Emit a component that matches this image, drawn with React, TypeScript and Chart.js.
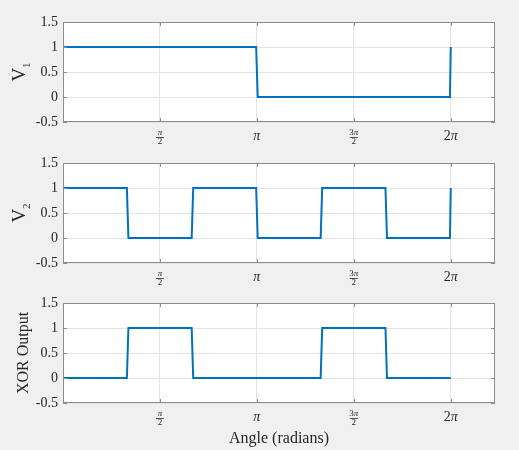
import React, { useEffect, useRef } from 'react';
import { Chart, registerables } from 'chart.js';

Chart.register(...registerables);

// V1: square wave, one period over 0..2π
const angleV1 = [0, 3.13, 3.155, 6.27, 6.283];
const valueV1 = [1, 1, 0, 0, 1];

// V2: square wave, three periods over 0..2π
const angleV2 = [0, 1.035, 1.06, 2.085, 2.11, 3.13, 3.155, 4.175, 4.2, 5.225, 5.25, 6.27, 6.283];
const valueV2 = [1, 1, 0, 0, 1, 1, 0, 0, 1, 1, 0, 0, 1];

// XOR of V1 and V2
const angleXor = [0, 1.035, 1.06, 2.085, 2.11, 4.175, 4.2, 5.225, 5.25, 6.283];
const valueXor = [0, 0, 1, 1, 0, 0, 1, 1, 0, 0];

const xTicks = [Math.PI / 2, Math.PI, (3 * Math.PI) / 2, 2 * Math.PI];
const xTickNumerators = ['π', 'π', '3π', '2π'];
const xTickDenominators = ['2', '', '2', ''];
const yTicks = [-0.5, 0, 0.5, 1, 1.5];
const yTitles = ['V', 'V', 'XOR Output'];
const ySubscripts = ['1', '2', ''];
const xTitle = 'Angle (radians)';

const SERIF = '"Liberation Serif", "DejaVu Serif", serif';
const TEXT = '#262626';
const AXIS = '#8c8c8c';
const GRID = '#e4e4e4';
const LINE = '#0072bd';

// draw a short math string centred on x, with π in italics
const drawMath = (ctx: CanvasRenderingContext2D, text: string, x: number, y: number, size: number) => {
  const parts = text.split('').map((ch) => ({
    ch,
    font: `${ch === 'π' ? 'italic ' : ''}${size}px ${SERIF}`,
  }));
  const widths = parts.map((p) => {
    ctx.font = p.font;
    return ctx.measureText(p.ch).width;
  });
  const total = widths.reduce((a, b) => a + b, 0);
  let cx = x - total / 2;
  ctx.textAlign = 'left';
  ctx.textBaseline = 'middle';
  parts.forEach((p, i) => {
    ctx.font = p.font;
    ctx.fillText(p.ch, cx, y);
    cx += widths[i];
  });
};

const matlabAxes = {
  id: 'matlabAxes',
  beforeDraw(chart: any) {
    const { ctx, chartArea: a } = chart;
    ctx.save();
    ctx.fillStyle = '#ffffff';
    ctx.fillRect(a.left, a.top, a.right - a.left, a.bottom - a.top);
    ctx.restore();
  },
  afterDraw(chart: any, _args: any, opts: any) {
    const { ctx, chartArea: a, scales } = chart;
    const xs = scales.x;
    const ys = scales.y;
    ctx.save();

    // box and inward tick marks
    ctx.strokeStyle = AXIS;
    ctx.lineWidth = 1;
    ctx.strokeRect(a.left + 0.5, a.top + 0.5, a.right - a.left - 1, a.bottom - a.top - 1);
    ctx.beginPath();
    xTicks.forEach((v) => {
      const px = Math.round(xs.getPixelForValue(v)) + 0.5;
      ctx.moveTo(px, a.top);
      ctx.lineTo(px, a.top + 4);
      ctx.moveTo(px, a.bottom);
      ctx.lineTo(px, a.bottom - 4);
    });
    yTicks.forEach((v) => {
      const py = Math.round(ys.getPixelForValue(v)) + 0.5;
      ctx.moveTo(a.left, py);
      ctx.lineTo(a.left + 4, py);
      ctx.moveTo(a.right, py);
      ctx.lineTo(a.right - 4, py);
    });
    ctx.stroke();

    // x tick labels (fractions of π)
    ctx.fillStyle = TEXT;
    xTicks.forEach((v, i) => {
      const px = xs.getPixelForValue(v);
      const den = xTickDenominators[i];
      if (den) {
        drawMath(ctx, xTickNumerators[i], px, a.bottom + 11, 9);
        ctx.fillRect(px - 4, a.bottom + 15, 8, 0.8);
        drawMath(ctx, den, px, a.bottom + 20, 9);
      } else {
        drawMath(ctx, xTickNumerators[i], px, a.bottom + 14, 14);
      }
    });

    // y title, with optional subscript
    ctx.save();
    ctx.translate(opts.titleX, (a.top + a.bottom) / 2);
    ctx.rotate(-Math.PI / 2);
    ctx.textAlign = 'left';
    ctx.textBaseline = 'alphabetic';
    ctx.font = `${opts.titleSize}px ${SERIF}`;
    const wMain = ctx.measureText(opts.title).width;
    ctx.font = `11px ${SERIF}`;
    const wSub = opts.sub ? ctx.measureText(opts.sub).width : 0;
    const start = -(wMain + wSub) / 2;
    ctx.font = `${opts.titleSize}px ${SERIF}`;
    ctx.fillText(opts.title, start, 0);
    if (opts.sub) {
      ctx.font = `11px ${SERIF}`;
      ctx.fillText(opts.sub, start + wMain, 5);
    }
    ctx.restore();

    if (opts.xTitle) {
      ctx.font = `16px ${SERIF}`;
      ctx.textAlign = 'center';
      ctx.textBaseline = 'alphabetic';
      ctx.fillText(opts.xTitle, (a.left + a.right) / 2, a.bottom + 40);
    }
    ctx.restore();
  },
};

interface PanelProps {
  angles: number[];
  values: number[];
  title: string;
  sub: string;
  titleX: number;
  titleSize: number;
  top: number;
  height: number;
  showXTitle?: boolean;
}

const Panel: React.FC<PanelProps> = ({ angles, values, title, sub, titleX, titleSize, top, height, showXTitle }) => {
  const canvasRef = useRef<HTMLCanvasElement>(null);

  useEffect(() => {
    if (!canvasRef.current) return;
    const xAxisHeight = height - 122;
    const chart = new Chart(canvasRef.current, {
      type: 'line',
      data: {
        datasets: [
          {
            data: angles.map((x, i) => ({ x, y: values[i] })),
            borderColor: LINE,
            borderWidth: 2,
            pointRadius: 0,
            tension: 0,
            fill: false,
          },
        ],
      },
      options: {
        animation: false,
        responsive: false,
        layout: { padding: { top: 22, right: 24, left: 0, bottom: 0 } },
        plugins: {
          legend: { display: false },
          tooltip: { enabled: false },
          // @ts-ignore
          matlabAxes: { title, sub, titleX, titleSize, xTitle: showXTitle ? xTitle : '' },
        },
        scales: {
          x: {
            type: 'linear',
            min: 0,
            max: 7,
            afterBuildTicks: (s: any) => {
              s.ticks = xTicks.map((value) => ({ value }));
            },
            ticks: { display: false },
            grid: { color: GRID, drawTicks: false },
            border: { display: false },
            afterFit: (s: any) => {
              s.height = xAxisHeight;
            },
          },
          y: {
            min: -0.5,
            max: 1.5,
            afterBuildTicks: (s: any) => {
              s.ticks = yTicks.map((value) => ({ value }));
            },
            ticks: {
              padding: 5,
              color: TEXT,
              font: { family: SERIF, size: 14 },
              callback: (v: any) => String(v),
            },
            grid: { color: GRID, drawTicks: false },
            border: { display: false },
            afterFit: (s: any) => {
              s.width = 63;
            },
          },
        },
      },
      plugins: [matlabAxes],
    });
    return () => chart.destroy();
  }, [angles, values, title, sub, titleX, titleSize, height, showXTitle]);

  return (
    <canvas
      ref={canvasRef}
      width={519}
      height={height}
      style={{ position: 'absolute', left: 0, top, width: 519, height }}
    />
  );
};

const App: React.FC = () => {
  return (
    <div
      style={{
        position: 'fixed',
        left: 0,
        top: 0,
        width: 519,
        height: 450,
        background: '#f0f0f0',
        overflow: 'hidden',
      }}
    >
      <Panel
        angles={angleV1}
        values={valueV1}
        title={yTitles[0]}
        sub={ySubscripts[0]}
        titleX={25}
        titleSize={19}
        top={0}
        height={160}
      />
      <Panel
        angles={angleV2}
        values={valueV2}
        title={yTitles[1]}
        sub={ySubscripts[1]}
        titleX={25}
        titleSize={19}
        top={141}
        height={160}
      />
      <Panel
        angles={angleXor}
        values={valueXor}
        title={yTitles[2]}
        sub={ySubscripts[2]}
        titleX={28}
        titleSize={16}
        top={281}
        height={169}
        showXTitle
      />
    </div>
  );
};

export default App;
